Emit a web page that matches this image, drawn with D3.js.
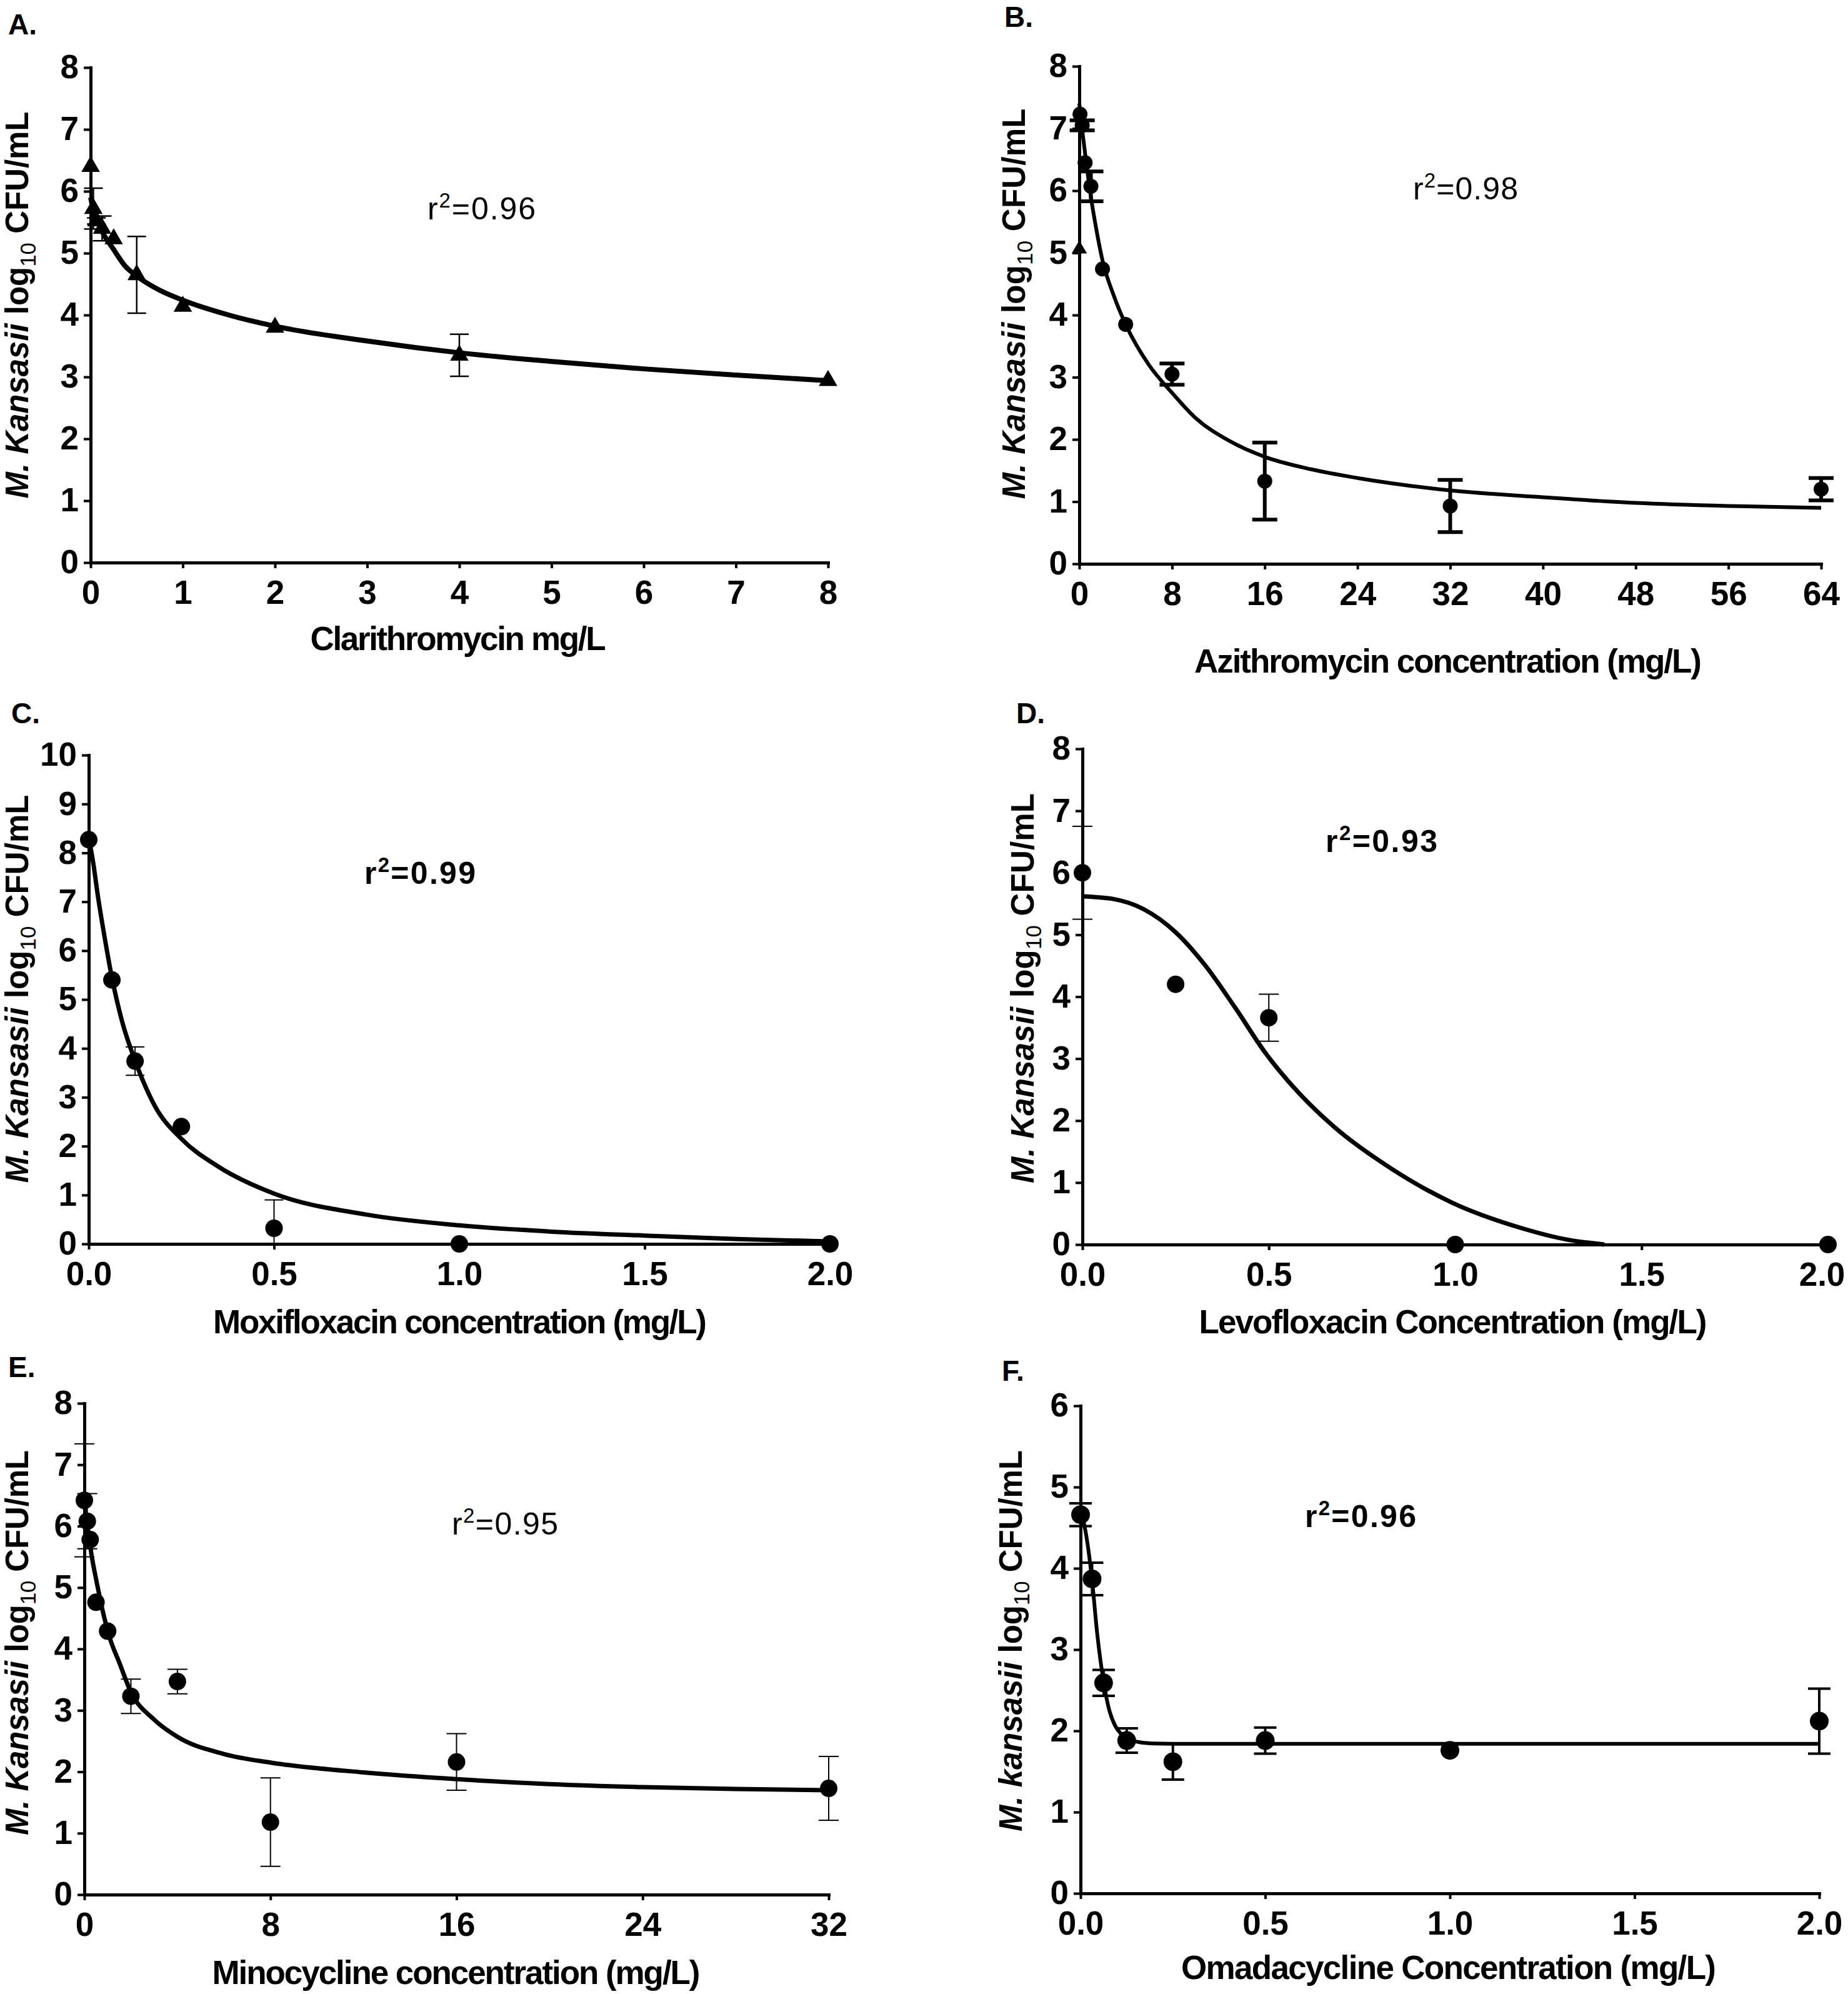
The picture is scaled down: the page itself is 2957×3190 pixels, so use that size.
<!DOCTYPE html>
<html><head><meta charset="utf-8">
<script src="https://cdn.jsdelivr.net/npm/d3@7"></script>
<style>
html,body{margin:0;padding:0;background:#fff;}
svg{display:block;}
text{font-family:"Liberation Sans", Arial, sans-serif;fill:#000;}
</style></head><body>
<svg id="chart" width="2957" height="3190"></svg>
<script>
// ---------------- DATA ----------------
// A. Clarithromycin
const clariConc = [0, 0.03, 0.0625, 0.125, 0.25, 0.5, 1, 2, 4, 8];
const clariLog  = [6.4, 5.72, 5.52, 5.4, 5.23, 4.65, 4.14, 3.8, 3.35, 2.94];
const clariSD   = [0, 0.33, 0.05, 0.2, 0, 0.62, 0, 0, 0.34, 0];
const clariFitX = [0, 0.03, 0.06, 0.1, 0.15, 0.24, 0.37, 0.5, 0.75, 1, 1.5, 2, 3, 4, 5, 6, 7, 8];
const clariFitY = [5.9, 5.7, 5.57, 5.42, 5.28, 5.08, 4.8, 4.63, 4.4, 4.24, 4.0, 3.82, 3.58, 3.39, 3.25, 3.13, 3.03, 2.94];
const clariTicksX = [0, 1, 2, 3, 4, 5, 6, 7, 8];
const clariTicksY = [0, 1, 2, 3, 4, 5, 6, 7, 8];

// B. Azithromycin
const aziConc = [0.06, 0.25, 0.5, 1, 2, 4, 8, 16, 32, 64];
const aziLog  = [7.23, 7.05, 6.45, 6.07, 4.74, 3.85, 3.05, 1.33, 0.93, 1.2];
const aziSD   = [0, 0.08, 0, 0.24, 0, 0, 0.17, 0.62, 0.42, 0.18];
const aziTriConc = [0];
const aziTriLog  = [5.06];
const aziFitX = [0, 0.3, 0.6, 1, 1.4, 2, 3, 4, 6, 8, 10, 13, 16, 20, 24, 32, 40, 48, 56, 64];
const aziFitY = [7.4, 6.9, 6.45, 5.9, 5.45, 4.88, 4.3, 3.85, 3.2, 2.75, 2.35, 1.97, 1.72, 1.52, 1.38, 1.18, 1.07, 0.98, 0.93, 0.9];
const aziTicksX = [0, 8, 16, 24, 32, 40, 48, 56, 64];
const aziTicksY = [0, 1, 2, 3, 4, 5, 6, 7, 8];

// C. Moxifloxacin
const moxiConc = [0, 0.0625, 0.125, 0.25, 0.5, 1, 2];
const moxiLog  = [8.27, 5.4, 3.74, 2.4, 0.32, 0, 0];
const moxiSD   = [0, 0, 0.29, 0, 0.58, 0, 0];
const moxiFitX = [0, 0.012, 0.025, 0.04, 0.0625, 0.09, 0.125, 0.18, 0.25, 0.35, 0.5, 0.75, 1, 1.25, 1.5, 1.75, 2];
const moxiFitY = [8.3, 7.8, 7.1, 6.4, 5.45, 4.55, 3.75, 2.8, 2.15, 1.58, 1.03, 0.6, 0.38, 0.25, 0.17, 0.1, 0.05];
const moxiTicksX = [0, 0.5, 1, 1.5, 2];
const moxiTicksY = [0, 1, 2, 3, 4, 5, 6, 7, 8, 9, 10];

// D. Levofloxacin
const levoConc = [0, 0.25, 0.5, 1, 2];
const levoLog  = [6.0, 4.2, 3.66, 0, 0];
const levoSD   = [0.75, 0, 0.38, 0, 0];
const levoFitX = [0, 0.08, 0.165, 0.25, 0.33, 0.41, 0.49, 0.58, 0.675, 0.83, 0.99, 1.175, 1.3, 1.4];
const levoFitY = [5.62, 5.58, 5.41, 5.04, 4.5, 3.82, 3.1, 2.45, 1.9, 1.22, 0.68, 0.27, 0.08, 0.0];
const levoTicksX = [0, 0.5, 1, 1.5, 2];
const levoTicksY = [0, 1, 2, 3, 4, 5, 6, 7, 8];

// E. Minocycline
const minoConc = [0, 0.125, 0.25, 0.5, 1, 2, 4, 8, 16, 32];
const minoLog  = [6.42, 6.08, 5.78, 4.76, 4.29, 3.23, 3.47, 1.18, 2.16, 1.73];
const minoSD   = [0.92, 0.45, 0, 0, 0, 0.28, 0.2, 0.72, 0.46, 0.52];
const minoFitX = [0, 0.15, 0.3, 0.55, 0.8, 1.1, 1.5, 2, 3, 4, 6, 8, 12, 16, 20, 24, 28, 32];
const minoFitY = [6.35, 5.95, 5.55, 5.05, 4.6, 4.17, 3.78, 3.3, 2.85, 2.57, 2.29, 2.15, 1.99, 1.88, 1.8, 1.75, 1.72, 1.7];
const minoTicksX = [0, 8, 16, 24, 32];
const minoTicksY = [0, 1, 2, 3, 4, 5, 6, 7, 8];

// F. Omadacycline
const omaConc = [0, 0.03125, 0.0625, 0.125, 0.25, 0.5, 1, 2];
const omaLog  = [4.66, 3.87, 2.59, 1.88, 1.62, 1.88, 1.76, 2.12];
const omaSD   = [0.14, 0.2, 0.16, 0.15, 0.22, 0.16, 0, 0.4];
const omaFitX = [0, 0.0156, 0.03125, 0.045, 0.0625, 0.078, 0.094, 0.11, 0.125, 0.16, 0.2, 0.3, 1, 2];
const omaFitY = [4.72, 4.4, 3.85, 3.2, 2.6, 2.25, 2.06, 1.96, 1.91, 1.86, 1.845, 1.84, 1.84, 1.84];
const omaTicksX = [0, 0.5, 1, 1.5, 2];
const omaTicksY = [0, 1, 2, 3, 4, 5, 6];

// Texts
const panelLetters = ["A.", "B.", "C.", "D.", "E.", "F."];
const xTitles = ["Clarithromycin mg/L", "Azithromycin concentration (mg/L)", "Moxifloxacin concentration (mg/L)",
                 "Levofloxacin Concentration (mg/L)", "Minocycline concentration (mg/L)", "Omadacycline Concentration (mg/L)"];
const speciesNames = ["M. Kansasii", "M. Kansasii", "M. Kansasii", "M. Kansasii", "M. Kansasii", "M. kansasii"];
const r2Values = ["0.96", "0.98", "0.99", "0.93", "0.95", "0.96"];

// ---------------- LAYOUT (positions / styles) ----------------
const layout = [
  {x0:145, x1:1325, y0:900, y1:108, lab:[13,55], xt:[733,1040,473], yt:[45,488,619], r2:[684,351,173], r2bold:false,
   lw:8, ew:2.5, cap:30, sym:"tri", xfmt:"d", lastDx:0},
  {x0:1727, x1:2914, y0:902, y1:106, lab:[1607,43], xt:[2317,1076,812], yt:[1640,486,625], r2:[2261,319,168], r2bold:false,
   lw:6, ew:6, cap:40, sym:"circ", r:12, xfmt:"d", lastDx:0},
  {x0:142, x1:1328, y0:1990, y1:1208, lab:[18,1157], xt:[736,2133,790], yt:[45,1582,621], r2:[583,1414,178], r2bold:true,
   lw:7, ew:2, cap:30, sym:"circ", r:14, xfmt:".1f", lastDx:0},
  {x0:1732, x1:2925, y0:1991, y1:1198, lab:[1626,1157], xt:[2325,2133,813], yt:[1654,1581,624], r2:[2121,1363,179], r2bold:true,
   lw:7, ew:2, cap:32, sym:"circ", r:14, xfmt:".1f", lastDx:-10},
  {x0:135, x1:1326, y0:3031, y1:2245, lab:[13,2203], xt:[730,3174,781], yt:[45,2628,616], r2:[723,2455,170], r2bold:false,
   lw:7, ew:2, cap:32, sym:"circ", r:14, xfmt:"d", lastDx:0},
  {x0:1729, x1:2911, y0:3029, y1:2249, lab:[1603,2209], xt:[2318,3166,856], yt:[1635,2625,610], r2:[2088,2443,178], r2bold:true,
   lw:6, ew:4, cap:36, sym:"circ", r:15, xfmt:".1f", lastDx:0}
];

const series = [
  {conc:clariConc, val:clariLog, sd:clariSD, fx:clariFitX, fy:clariFitY, tx:clariTicksX, ty:clariTicksY},
  {conc:aziConc, val:aziLog, sd:aziSD, fx:aziFitX, fy:aziFitY, tx:aziTicksX, ty:aziTicksY, triC:aziTriConc, triV:aziTriLog},
  {conc:moxiConc, val:moxiLog, sd:moxiSD, fx:moxiFitX, fy:moxiFitY, tx:moxiTicksX, ty:moxiTicksY},
  {conc:levoConc, val:levoLog, sd:levoSD, fx:levoFitX, fy:levoFitY, tx:levoTicksX, ty:levoTicksY},
  {conc:minoConc, val:minoLog, sd:minoSD, fx:minoFitX, fy:minoFitY, tx:minoTicksX, ty:minoTicksY},
  {conc:omaConc, val:omaLog, sd:omaSD, fx:omaFitX, fy:omaFitY, tx:omaTicksX, ty:omaTicksY}
];

const svg = d3.select("#chart");
svg.append("rect").attr("width", 2957).attr("height", 3190).attr("fill", "#fff");

function drawPanel(i) {
  const L = layout[i], S = series[i];
  const g = svg.append("g");
  const x = d3.scaleLinear().domain([S.tx[0], S.tx[S.tx.length - 1]]).range([L.x0, L.x1]);
  const y = d3.scaleLinear().domain([S.ty[0], S.ty[S.ty.length - 1]]).range([L.y0, L.y1]);

  // axes
  const gx = g.append("g").attr("transform", `translate(0,${L.y0})`)
    .call(d3.axisBottom(x).tickValues(S.tx).tickFormat(d3.format(L.xfmt)).tickSize(9).tickSizeOuter(0).tickPadding(19));
  const gy = g.append("g").attr("transform", `translate(${L.x0},0)`)
    .call(d3.axisLeft(y).tickValues(S.ty).tickFormat(d3.format("d")).tickSize(11).tickSizeOuter(0).tickPadding(8));
  [gx, gy].forEach(a => {
    a.select(".domain").attr("stroke", "#000").attr("stroke-width", 5).attr("stroke-linecap", "square");
    a.selectAll(".tick line").attr("stroke", "#000").attr("stroke-width", 4);
    a.selectAll(".tick text").attr("font-size", 53).attr("font-weight", "bold")
      .attr("font-family", '"Liberation Sans", Arial, sans-serif').attr("fill", "#000");
  });
  if (L.lastDx) gx.selectAll(".tick text").filter((d, k, n) => k === n.length - 1).attr("dx", L.lastDx);

  // fitted curve
  const line = d3.line().x(d => x(d[0])).y(d => y(d[1])).curve(d3.curveMonotoneX);
  g.append("path").datum(d3.zip(S.fx, S.fy)).attr("d", line)
    .attr("fill", "none").attr("stroke", "#000").attr("stroke-width", L.lw).attr("stroke-linejoin", "round");

  // error bars
  const pts = d3.zip(S.conc, S.val, S.sd);
  const eb = g.append("g").attr("stroke", "#000").attr("stroke-width", L.ew);
  pts.filter(d => d[2] > 0).forEach(d => {
    const cx = x(d[0]);
    const lo = Math.max(0, d[1] - d[2]), hi = d[1] + d[2];
    eb.append("line").attr("x1", cx).attr("x2", cx).attr("y1", y(lo)).attr("y2", y(hi));
    eb.append("line").attr("x1", cx - L.cap / 2).attr("x2", cx + L.cap / 2).attr("y1", y(hi)).attr("y2", y(hi));
    if (d[1] - d[2] >= 0)
      eb.append("line").attr("x1", cx - L.cap / 2).attr("x2", cx + L.cap / 2).attr("y1", y(lo)).attr("y2", y(lo));
  });

  // markers
  const triangle = d3.symbol().type(d3.symbolTriangle).size(380);
  if (L.sym === "tri") {
    g.selectAll("path.pt").data(pts).join("path").attr("class", "pt")
      .attr("d", triangle).attr("transform", d => `translate(${x(d[0])},${y(d[1])})`).attr("fill", "#000");
  } else {
    g.selectAll("circle.pt").data(pts).join("circle").attr("class", "pt")
      .attr("cx", d => x(d[0])).attr("cy", d => y(d[1])).attr("r", L.r).attr("fill", "#000");
  }
  if (S.triC) {
    g.selectAll("path.tri").data(d3.zip(S.triC, S.triV)).join("path").attr("class", "tri")
      .attr("d", d3.symbol().type(d3.symbolTriangle).size(260))
      .attr("transform", d => `translate(${x(d[0])},${y(d[1])})`).attr("fill", "#000");
  }

  // panel letter
  g.append("text").attr("x", L.lab[0]).attr("y", L.lab[1]).attr("font-size", 46).attr("font-weight", "bold")
    .text(panelLetters[i]);

  // x title
  g.append("text").attr("x", L.xt[0]).attr("y", L.xt[1]).attr("text-anchor", "middle")
    .attr("font-size", 53).attr("font-weight", "bold")
    .attr("textLength", L.xt[2]).attr("lengthAdjust", "spacing").text(xTitles[i]);

  // y title
  const yt = g.append("text").attr("transform", `translate(${L.yt[0]},${L.yt[1]}) rotate(-90)`)
    .attr("text-anchor", "middle").attr("font-size", 51).attr("font-weight", "bold")
    .attr("textLength", L.yt[2]).attr("lengthAdjust", "spacing");
  yt.append("tspan").attr("font-style", "italic").text(speciesNames[i]);
  yt.append("tspan").text(" log");
  yt.append("tspan").attr("font-size", 35).attr("font-weight", "normal").attr("dy", 12).text("10");
  yt.append("tspan").attr("dy", -12).text(" CFU/mL");

  // r^2 annotation
  const rt = g.append("text").attr("x", L.r2[0]).attr("y", L.r2[1]).attr("font-size", 50)
    .attr("font-weight", L.r2bold ? "bold" : "normal")
    .attr("textLength", L.r2[2]).attr("lengthAdjust", "spacing");
  rt.append("tspan").text("r");
  rt.append("tspan").attr("font-size", 33).attr("dy", -19).text("2");
  rt.append("tspan").attr("dy", 19).text("=" + r2Values[i]);
}

for (let i = 0; i < 6; i++) drawPanel(i);
</script></body></html>
